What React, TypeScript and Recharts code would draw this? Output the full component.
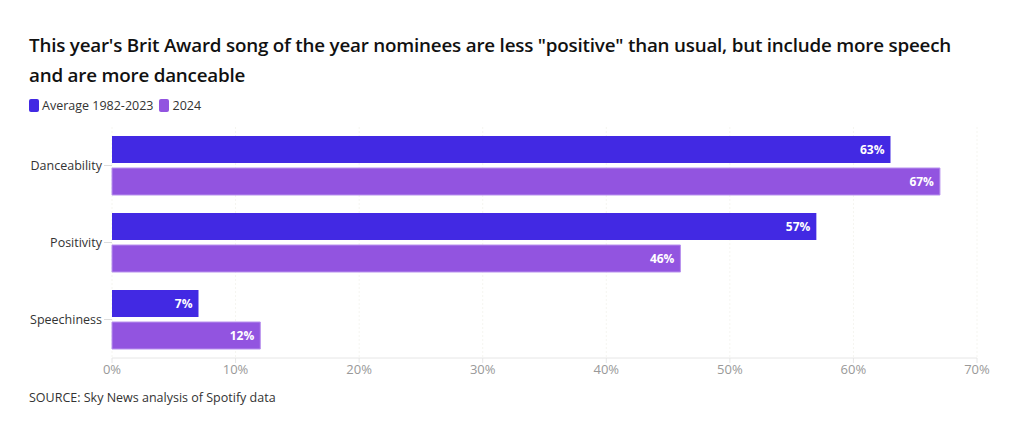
import { BarChart, Bar, XAxis, YAxis, CartesianGrid, LabelList } from 'recharts';

const CATEGORIES = ['Danceability', 'Positivity', 'Speechiness'];
const AVERAGE_1982_2023 = [63, 57, 7];
const VALUES_2024 = [67, 46, 12];
const X_TICKS = [0, 10, 20, 30, 40, 50, 60, 70];

const AVG_COLOR = '#4229E3';
const NEW_COLOR = '#9254E0';
const FONT = '"Open Sans", sans-serif';

const data = CATEGORIES.map((name, i) => ({
  name,
  avg: AVERAGE_1982_2023[i],
  y2024: VALUES_2024[i],
}));

const labelStyle = { fill: '#fff', fontSize: 12, fontWeight: 700, fontFamily: FONT };

export default function App() {
  return (
    <div style={{ position: 'absolute', left: 0, top: 0, width: 1020, height: 434, background: '#fff', fontFamily: FONT }}>
      <div style={{ position: 'absolute', left: 29, top: 30, width: 960, fontSize: 18.8, fontWeight: 600, lineHeight: '30px', color: '#111', letterSpacing: -0.2 }}>
        This year's Brit Award song of the year nominees are less "positive" than usual, but include more speech<br />and are more danceable
      </div>
      <div style={{ position: 'absolute', left: 29, top: 97, display: 'flex', alignItems: 'center', fontSize: 12.5, color: '#333' }}>
        <span style={{ width: 10, height: 13, borderRadius: 2, background: AVG_COLOR, marginRight: 3 }} />
        <span style={{ marginRight: 6 }}>Average 1982-2023</span>
        <span style={{ width: 10, height: 13, borderRadius: 2, background: NEW_COLOR, marginRight: 3 }} />
        <span>2024</span>
      </div>
      <div style={{ position: 'absolute', left: 29, top: 389, fontSize: 12.5, color: '#333' }}>
        SOURCE: Sky News analysis of Spotify data
      </div>
      <div style={{ position: 'absolute', left: 0, top: 0 }}>
        <BarChart
          width={1020}
          height={434}
          data={data}
          layout="vertical"
          margin={{ top: 127, right: 43, bottom: 46, left: 0 }}
          barSize={27}
          barGap={5}
        >
          <CartesianGrid horizontal={false} stroke="#f5f5f0" strokeDasharray="2 2" />
          <XAxis
            type="number"
            domain={[0, 70]}
            ticks={X_TICKS}
            tickFormatter={(v: number) => `${v}%`}
            tick={{ fontSize: 13, fill: '#999', fontFamily: FONT }}
            axisLine={{ stroke: '#e6e6e6' }}
            tickLine={{ stroke: '#e6e6e6' }}
            tickSize={5}
            height={30}
          />
          <YAxis
            type="category"
            dataKey="name"
            width={112}
            tick={{ fontSize: 12.5, fill: '#333', fontFamily: FONT }}
            axisLine={false}
            tickLine={{ stroke: '#ddd' }}
            tickSize={8}
          />
          <Bar dataKey="avg" fill={AVG_COLOR} isAnimationActive={false}>
            <LabelList dataKey="avg" position="insideRight" offset={6} formatter={(v: any) => `${v}%`} style={labelStyle} />
          </Bar>
          <Bar dataKey="y2024" fill={NEW_COLOR} stroke="#b891ee" strokeWidth={1} isAnimationActive={false}>
            <LabelList dataKey="y2024" position="insideRight" offset={6} formatter={(v: any) => `${v}%`} style={labelStyle} />
          </Bar>
        </BarChart>
      </div>
    </div>
  );
}
